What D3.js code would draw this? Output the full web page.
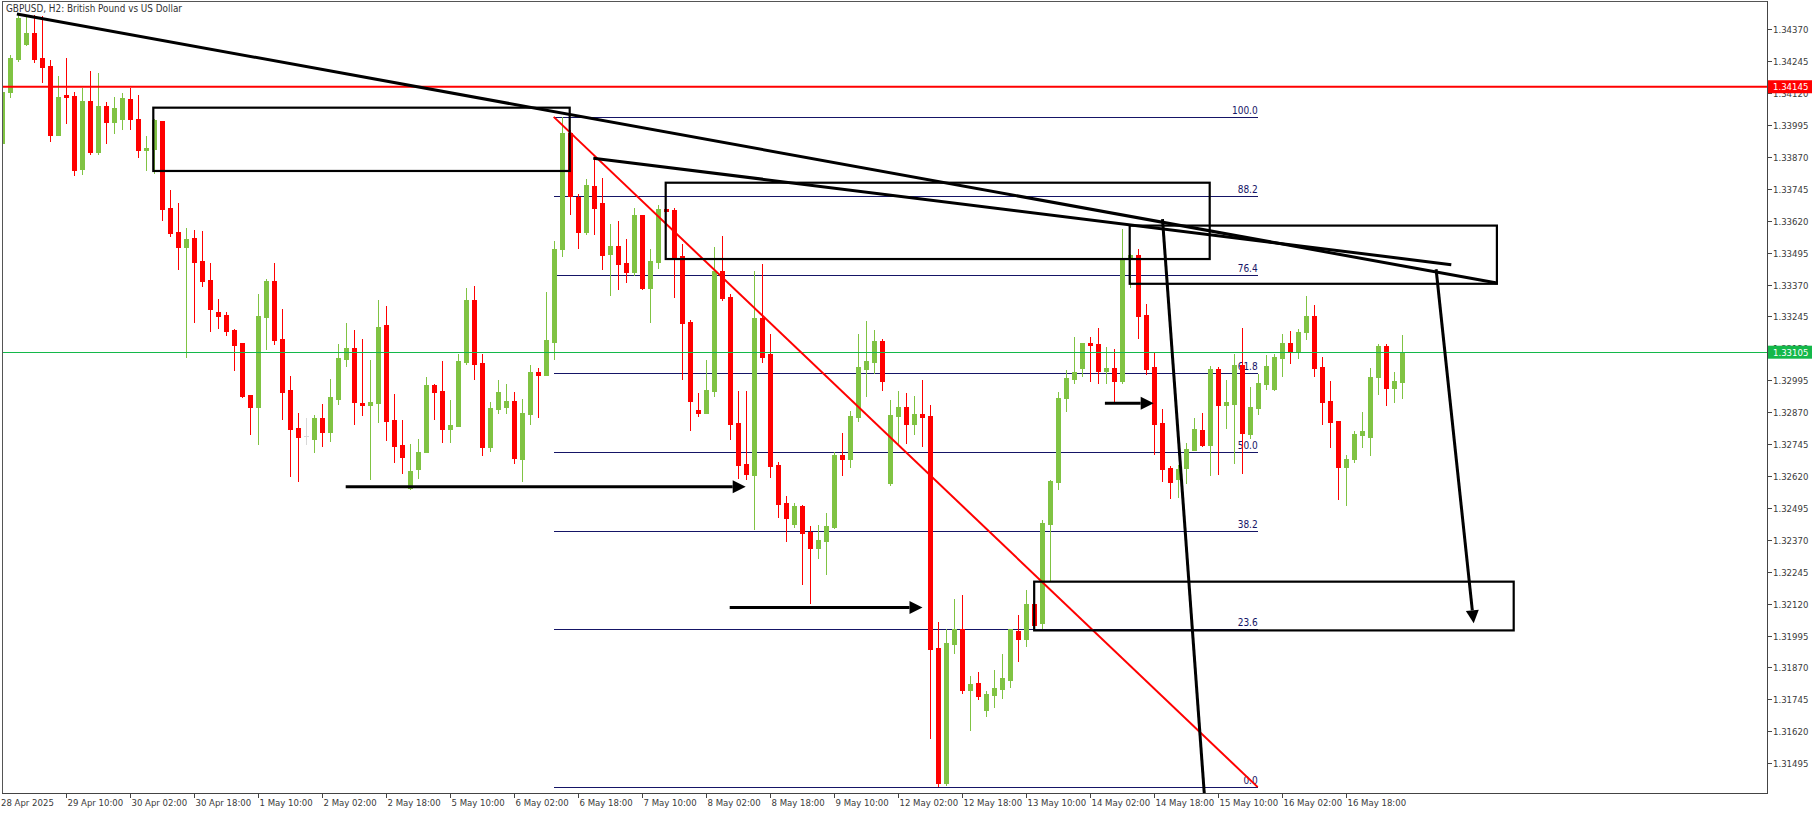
<!DOCTYPE html>
<html><head><meta charset="utf-8">
<script src="https://cdn.jsdelivr.net/npm/d3@7"></script>
<style>html,body{margin:0;padding:0;background:#fff;overflow:hidden}</style>
</head><body>
<svg id="c" width="1820" height="814"></svg>
<script>
// ---- Data ----
const opens = [1.33926,1.34125,1.34252,1.34311,1.34354,1.34256,1.34226,1.33956,1.34111,1.34108,
1.33822,1.34089,1.33890,1.34069,1.34008,1.34018,1.34097,1.34018,1.33899,1.33902,
1.34010,1.33668,1.33574,1.33518,1.33552,1.33462,1.33387,1.33262,1.33250,1.33191,
1.33142,1.32937,1.32891,1.33244,1.33384,1.33157,1.32957,1.32808,1.32775,1.32765,
1.32847,1.32792,1.32922,1.33080,1.33122,1.32906,1.32898,1.32907,1.33212,1.32839,
1.32741,1.32572,1.32647,1.32714,1.32977,1.32953,1.32805,1.32817,1.33067,1.33310,
1.33063,1.32735,1.32882,1.32892,1.32914,1.32688,1.32864,1.33028,1.33017,1.33146,
1.33508,1.33965,1.33714,1.33576,1.33756,1.33690,1.33490,1.33521,1.33455,1.33419,
1.33643,1.33357,1.33458,1.33666,1.33662,1.33482,1.33223,1.32878,1.32868,1.32953,
1.33423,1.33321,1.32828,1.32667,1.32624,1.33239,1.33098,1.32663,1.32514,1.32432,
1.32502,1.32400,1.32338,1.32365,1.32420,1.32703,1.32688,1.32851,1.33039,1.33068,
1.33149,1.32593,1.32855,1.32890,1.32825,1.32864,1.32855,1.31946,1.31417,1.31962,
1.32019,1.31780,1.31809,1.31703,1.31762,1.31785,1.31822,1.32013,1.31981,1.32119,
1.32044,1.32432,1.32597,1.32926,1.33000,1.33043,1.33141,1.33138,1.33032,1.33043,
1.32991,1.33472,1.33486,1.33251,1.33047,1.32828,1.32651,1.32608,1.32651,1.32722,
1.32800,1.32741,1.33039,1.32898,1.32902,1.33055,1.32784,1.32886,1.32980,1.32961,
1.33082,1.33141,1.33110,1.33184,1.33247,1.33047,1.32914,1.32835,1.32655,1.32687,
1.32781,1.32773,1.33008,1.33129,1.32965,1.32988];
const highs = [1.34132,1.34269,1.34426,1.34426,1.34426,1.34422,1.34249,1.34187,1.34256,1.34125,
1.34142,1.34208,1.34200,1.34084,1.34103,1.34119,1.34142,1.34112,1.33952,1.34017,
1.34010,1.33740,1.33690,1.33590,1.33583,1.33581,1.33453,1.33313,1.33261,1.33195,
1.33142,1.32937,1.33333,1.33390,1.33453,1.33274,1.33012,1.32867,1.32846,1.32859,
1.32902,1.33000,1.33137,1.33220,1.33192,1.33157,1.33075,1.33310,1.33286,1.32941,
1.32839,1.32745,1.32765,1.33009,1.32979,1.33071,1.32918,1.33098,1.33357,1.33364,
1.33098,1.32910,1.32996,1.32980,1.32949,1.32922,1.33055,1.33043,1.33341,1.33541,
1.34025,1.33976,1.33725,1.33784,1.33871,1.33788,1.33607,1.33619,1.33549,1.33670,
1.33643,1.33509,1.33682,1.33666,1.33670,1.33529,1.33231,1.32945,1.33074,1.33517,
1.33560,1.33333,1.32953,1.32953,1.33423,1.33451,1.33176,1.32675,1.32541,1.32514,
1.32506,1.32424,1.32428,1.32475,1.32713,1.32788,1.32875,1.33177,1.33227,1.33193,
1.33156,1.32916,1.32954,1.32946,1.32933,1.32996,1.32899,1.32048,1.32019,1.32138,
1.32154,1.31836,1.31852,1.31778,1.31859,1.31923,1.32019,1.32075,1.32174,1.32119,
1.32449,1.32604,1.32949,1.33035,1.33165,1.33141,1.33165,1.33200,1.33126,1.33117,
1.33588,1.33490,1.33509,1.33294,1.33102,1.32882,1.32659,1.32663,1.32749,1.32847,
1.32867,1.33051,1.33047,1.32996,1.33098,1.33200,1.32969,1.33020,1.33094,1.33098,
1.33176,1.33188,1.33196,1.33325,1.33290,1.33086,1.32992,1.32835,1.32702,1.32796,
1.32871,1.33043,1.33137,1.33137,1.33027,1.33172];
const lows = [1.33920,1.34106,1.34246,1.34308,1.34243,1.34165,1.33933,1.33956,1.34004,1.33799,
1.33805,1.33881,1.33880,1.33926,1.33965,1.33978,1.33979,1.33868,1.33818,1.33808,
1.33623,1.33561,1.33429,1.33087,1.33224,1.33364,1.33188,1.33198,1.33172,1.33035,
1.32930,1.32784,1.32745,1.33117,1.33139,1.32843,1.32621,1.32602,1.32744,1.32714,
1.32739,1.32757,1.32902,1.33051,1.32825,1.32859,1.32608,1.32832,1.32761,1.32675,
1.32633,1.32568,1.32612,1.32714,1.32843,1.32753,1.32753,1.32817,1.33059,1.33000,
1.32703,1.32719,1.32868,1.32868,1.32671,1.32602,1.32825,1.32852,1.33017,1.33078,
1.33483,1.33647,1.33515,1.33567,1.33568,1.33432,1.33330,1.33353,1.33380,1.33408,
1.33353,1.33223,1.33435,1.33660,1.33323,1.33001,1.32800,1.32855,1.32868,1.32933,
1.33310,1.32765,1.32612,1.32608,1.32412,1.33067,1.32616,1.32459,1.32365,1.32421,
1.32197,1.32122,1.32299,1.32236,1.32416,1.32623,1.32657,1.32836,1.32933,1.33022,
1.32957,1.32583,1.32749,1.32751,1.32784,1.32739,1.31594,1.31406,1.31410,1.31928,
1.31771,1.31626,1.31748,1.31681,1.31716,1.31752,1.31794,1.31896,1.31955,1.32036,
1.32026,1.32214,1.32570,1.32875,1.32984,1.33013,1.32993,1.32984,1.32984,1.32910,
1.32984,1.33359,1.33161,1.33020,1.32706,1.32600,1.32534,1.32538,1.32592,1.32722,
1.32737,1.32624,1.32628,1.32808,1.32671,1.32632,1.32769,1.32863,1.32961,1.32957,
1.33012,1.33063,1.33082,1.33157,1.33012,1.32824,1.32734,1.32530,1.32506,1.32675,
1.32734,1.32702,1.32941,1.32898,1.32910,1.32926];
const closes = [1.34125,1.34256,1.34413,1.34354,1.34253,1.34223,1.33956,1.34103,1.34106,1.33818,
1.34089,1.33890,1.34069,1.34008,1.34060,1.34101,1.34018,1.33899,1.33905,1.34014,
1.33666,1.33573,1.33518,1.33548,1.33459,1.33384,1.33274,1.33246,1.33189,1.33133,
1.32933,1.32891,1.33246,1.33384,1.33152,1.32950,1.32805,1.32774,1.32775,1.32847,
1.32792,1.32930,1.33082,1.33122,1.32910,1.32898,1.32910,1.33202,1.32835,1.32739,
1.32696,1.32641,1.32714,1.32977,1.32949,1.32805,1.32820,1.33071,1.33310,1.33060,
1.32735,1.32886,1.32949,1.32914,1.32692,1.32867,1.33028,1.33017,1.33153,1.33509,
1.33965,1.33717,1.33576,1.33760,1.33671,1.33487,1.33521,1.33451,1.33419,1.33643,
1.33357,1.33462,1.33666,1.33660,1.33479,1.33221,1.32914,1.32868,1.32957,1.33423,
1.33317,1.32824,1.32663,1.32628,1.33239,1.33086,1.32659,1.32510,1.32455,1.32502,
1.32396,1.32338,1.32369,1.32424,1.32702,1.32688,1.32855,1.33048,1.33071,1.33149,
1.32993,1.32859,1.32890,1.32825,1.32864,1.32852,1.31942,1.31417,1.31965,1.32019,
1.31780,1.31806,1.31758,1.31767,1.31790,1.31829,1.32019,1.31981,1.32119,1.32036,
1.32436,1.32600,1.32926,1.33003,1.33027,1.33141,1.33135,1.33032,1.33043,1.32993,
1.33471,1.33486,1.33247,1.33039,1.32824,1.32647,1.32596,1.32647,1.32726,1.32804,
1.32741,1.33039,1.32898,1.32910,1.33055,1.32788,1.32890,1.32984,1.33051,1.33086,
1.33141,1.33110,1.33184,1.33247,1.33043,1.32910,1.32831,1.32655,1.32687,1.32784,
1.32796,1.33008,1.33129,1.32965,1.32992,1.33106];

const timeLabels = ["28 Apr 2025","29 Apr 10:00","30 Apr 02:00","30 Apr 18:00","1 May 10:00","2 May 02:00",
"2 May 18:00","5 May 10:00","6 May 02:00","6 May 18:00","7 May 10:00","8 May 02:00","8 May 18:00",
"9 May 10:00","12 May 02:00","12 May 18:00","13 May 10:00","14 May 02:00","14 May 18:00",
"15 May 10:00","16 May 02:00","16 May 18:00"];
const timeLabelBars = [0,8,16,24,32,40,48,56,64,72,80,88,96,104,112,120,128,136,144,152,160,168];
const priceTicks = [1.34370,1.34245,1.34120,1.33995,1.33870,1.33745,1.33620,1.33495,1.33370,1.33245,
1.33120,1.32995,1.32870,1.32745,1.32620,1.32495,1.32370,1.32245,1.32120,1.31995,1.31870,1.31745,1.31620,1.31495];

const title = "GBPUSD, H2:  British Pound vs US Dollar";
const resistancePrice = 1.34145;
const lastPrice = 1.33105;

// Fibonacci retracement: anchor bars & prices
const fibLevels = [100.0, 88.2, 76.4, 61.8, 50.0, 38.2, 23.6, 0.0];
const fibBars = [68.9, 156.9];
const fibPrices = [1.34027, 1.31401];

// Drawn objects in (bar, price) coordinates
const trendLines = [
  [1.8, 1.34430, 186.8, 1.33376],
  [73.85, 1.33865, 181.1, 1.33448]
];
const boxes = [
  [18.85, 70.9, 1.34063, 1.33815],
  [82.9, 150.9, 1.33769, 1.33470],
  [140.9, 186.8, 1.33601, 1.33373],
  [128.96, 188.9, 1.32206, 1.32015]
];
const arrows = [
  [42.9, 1.32578, 92.9, 1.32578],
  [90.9, 1.32105, 115.0, 1.32105],
  [137.8, 1.32905, 143.9, 1.32905],
  [179.2, 1.33430, 183.9, 1.32043]
];
const plainLines = [
  [145.0, 1.33626, 150.4, 1.31300]
];

// ---- Layout ----
const W = 1820, H = 814;
const L = 2.5, R = 1767, T = 2, B = 793;
const svg = d3.select("#c");

const x = d3.scaleLinear().domain([0, 175]).range([2.5, 1402.5]);
const y = d3.scaleLinear().domain([1.31378, 1.34477]).range([B, T]);

const GREEN = "#80c343", RED = "#ff0000", NAVY = "#151566";
const AXIS_TXT = "#3a3a3a";
const FONT = "Tahoma, 'DejaVu Sans Condensed', 'DejaVu Sans', sans-serif";

svg.append("rect").attr("width", W).attr("height", H).attr("fill", "#fff");

svg.append("defs").append("clipPath").attr("id", "plot")
  .append("rect").attr("x", L).attr("y", T).attr("width", R - L).attr("height", B - T);

const plot = svg.append("g").attr("clip-path", "url(#plot)");

// Fibonacci levels
const fibG = plot.append("g");
fibLevels.forEach(lv => {
  const p = fibPrices[1] + (fibPrices[0] - fibPrices[1]) * lv / 100;
  const yy = Math.round(y(p)) + 0.5;
  fibG.append("line").attr("x1", x(fibBars[0])).attr("x2", x(fibBars[1]))
    .attr("y1", yy).attr("y2", yy).attr("stroke", NAVY).attr("stroke-width", 1)
    .attr("shape-rendering", "crispEdges");
  fibG.append("text").attr("x", x(fibBars[1])).attr("y", yy - 4)
    .attr("text-anchor", "end").attr("font-family", FONT).attr("font-size", 10)
    .attr("fill", NAVY).text(lv.toFixed(1));
});

// Candles
const candles = plot.append("g");
d3.range(opens.length).forEach(i => {
  const o = opens[i], c = closes[i], h = highs[i], l = lows[i];
  const col = o === c ? "#d8d8d8" : (c > o ? GREEN : RED);
  const cx = x(i);
  candles.append("line").attr("x1", cx).attr("x2", cx)
    .attr("y1", Math.round(y(h))).attr("y2", Math.round(y(l)) + 1)
    .attr("stroke", col).attr("stroke-width", 1).attr("shape-rendering", "crispEdges");
  const yt = Math.round(y(Math.max(o, c))), yb = Math.round(y(Math.min(o, c)));
  candles.append("rect").attr("x", cx - 2.5).attr("width", 5)
    .attr("y", yt).attr("height", Math.max(1, yb - yt + 1))
    .attr("fill", col).attr("shape-rendering", "crispEdges");
});

// Resistance line & current price line
plot.append("line").attr("x1", L).attr("x2", R)
  .attr("y1", y(resistancePrice)).attr("y2", y(resistancePrice))
  .attr("stroke", RED).attr("stroke-width", 2);
plot.append("line").attr("x1", L).attr("x2", R)
  .attr("y1", Math.round(y(lastPrice)) + 0.5).attr("y2", Math.round(y(lastPrice)) + 0.5)
  .attr("stroke", "#14b84a").attr("stroke-width", 1).attr("shape-rendering", "crispEdges");

// Red fib trend diagonal
plot.append("line").attr("x1", x(fibBars[0])).attr("y1", y(fibPrices[0]))
  .attr("x2", x(fibBars[1])).attr("y2", y(fibPrices[1]))
  .attr("stroke", RED).attr("stroke-width", 2);

// Boxes
boxes.forEach(b => {
  plot.append("rect").attr("x", x(b[0])).attr("y", y(b[2]))
    .attr("width", x(b[1]) - x(b[0])).attr("height", y(b[3]) - y(b[2]))
    .attr("fill", "none").attr("stroke", "#000").attr("stroke-width", 2.2);
});

// Trend lines
trendLines.forEach(t => {
  plot.append("line").attr("x1", x(t[0])).attr("y1", y(t[1]))
    .attr("x2", x(t[2])).attr("y2", y(t[3]))
    .attr("stroke", "#000").attr("stroke-width", 3);
});
plainLines.forEach(t => {
  plot.append("line").attr("x1", x(t[0])).attr("y1", y(t[1]))
    .attr("x2", x(t[2])).attr("y2", y(t[3]))
    .attr("stroke", "#000").attr("stroke-width", 3);
});

// Arrows
arrows.forEach(a => {
  const x1 = x(a[0]), y1 = y(a[1]), x2 = x(a[2]), y2 = y(a[3]);
  const ang = Math.atan2(y2 - y1, x2 - x1);
  const hl = 13, hw = 6.5;
  const bx = x2 - hl * Math.cos(ang), by = y2 - hl * Math.sin(ang);
  plot.append("line").attr("x1", x1).attr("y1", y1).attr("x2", bx).attr("y2", by)
    .attr("stroke", "#000").attr("stroke-width", 3);
  const px = -Math.sin(ang), py = Math.cos(ang);
  plot.append("path")
    .attr("d", `M${x2},${y2}L${bx + hw * px},${by + hw * py}L${bx - hw * px},${by - hw * py}Z`)
    .attr("fill", "#000");
});

// Frame
const frame = svg.append("g").attr("shape-rendering", "crispEdges");
frame.append("line").attr("x1", 2.5).attr("x2", 2.5).attr("y1", T).attr("y2", B).attr("stroke", "#555");
frame.append("line").attr("x1", 2).attr("x2", R).attr("y1", 1.5).attr("y2", 1.5).attr("stroke", "#555");
frame.append("line").attr("x1", R + 0.5).attr("x2", R + 0.5).attr("y1", 1).attr("y2", B + 1).attr("stroke", "#444");
frame.append("line").attr("x1", 2).attr("x2", R + 1).attr("y1", B + 0.5).attr("y2", B + 0.5).attr("stroke", "#444");

// Right price axis
const yAx = svg.append("g");
priceTicks.forEach(p => {
  const yy = Math.round(y(p)) + 0.5;
  yAx.append("line").attr("x1", R).attr("x2", R + 5).attr("y1", yy).attr("y2", yy)
    .attr("stroke", "#444").attr("shape-rendering", "crispEdges");
  yAx.append("text").attr("x", R + 6).attr("y", yy).attr("dy", "0.35em")
    .attr("font-family", FONT).attr("font-size", 9.5).attr("fill", AXIS_TXT)
    .text(p.toFixed(5));
});

// Price labels on axis
function priceTag(p, bg) {
  const yy = y(p);
  yAx.append("rect").attr("x", R + 1).attr("y", yy - 6.5).attr("width", 44).attr("height", 13).attr("fill", bg);
  yAx.append("text").attr("x", R + 6).attr("y", yy).attr("dy", "0.35em")
    .attr("font-family", FONT).attr("font-size", 9.5).attr("fill", "#fff").text(p.toFixed(5));
}
priceTag(resistancePrice, RED);
priceTag(lastPrice, "#14b84a");

// Bottom time axis
const xAx = svg.append("g");
timeLabels.forEach((lab, k) => {
  const xx = Math.floor(x(timeLabelBars[k])) + 0.5;
  if (k > 0) {
    xAx.append("line").attr("x1", xx).attr("x2", xx).attr("y1", B).attr("y2", B + 5)
      .attr("stroke", "#444").attr("shape-rendering", "crispEdges");
  }
  xAx.append("text").attr("x", k === 0 ? 1 : xx + 1).attr("y", 806)
    .attr("font-family", FONT).attr("font-size", 9.5).attr("fill", AXIS_TXT)
    .text(lab);
});

// Title
svg.append("text").attr("x", 6).attr("y", 12)
  .attr("font-family", FONT).attr("font-size", 10.5).attr("fill", "#333")
  .attr("textLength", 176).attr("lengthAdjust", "spacingAndGlyphs")
  .text(title);
</script>
</body></html>
